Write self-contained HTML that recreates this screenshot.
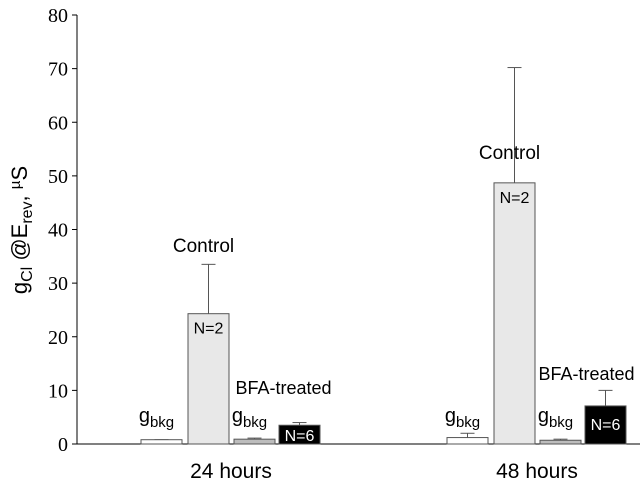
<!DOCTYPE html>
<html><head><meta charset="utf-8"><style>
html,body{margin:0;padding:0;background:#fff;}
svg{display:block;font-family:"Liberation Sans",sans-serif;}
</style></head><body>
<svg id="c" width="640" height="483" xmlns="http://www.w3.org/2000/svg"></svg>
<script>
const groups = ["24 hours","48 hours"];
const barLabels = ["gbkg-control","control","gbkg-bfa","bfa-treated"];
const values24 = [0.8, 24.3, 0.9, 3.5];
const errors24 = [0.8, 33.5, 1.1, 4.0];
const values48 = [1.2, 48.7, 0.7, 7.1];
const errors48 = [2.0, 70.2, 0.9, 10.0];
const yTicks = [0,10,20,30,40,50,60,70,80];

const NS="http://www.w3.org/2000/svg";
const svg=document.getElementById('c');
const y0=444, y80=15, axX=77;
const yS=v=>y0-(v/80)*(y0-y80);
function el(t,a,p){const e=document.createElementNS(NS,t);for(const k in a)e.setAttribute(k,a[k]);(p||svg).appendChild(e);return e;}
const fills=["#fff","#e8e8e8","#bdbdbd","#000"];
const groupStart=[141,447];
const offs=[0,47,93,138];
const bw=41;
const allV=[values24,values48], allE=[errors24,errors48];

const ya=el('line',{x1:axX,y1:y80,x2:axX,y2:y0,stroke:'#000','stroke-width':1});

const xa=el('line',{x1:axX,y1:y0,x2:640,y2:y0,stroke:'#000','stroke-width':1});

yTicks.forEach(t=>{
  const y=yS(t);
  const l=el('line',{x1:axX-5,y1:y,x2:axX,y2:y,stroke:'#000'});
  
  const tx=el('text',{x:axX-9,y:y+7,'text-anchor':'end','font-size':20,'font-family':'Liberation Serif,serif'});
  tx.textContent=t;
  
});
const yt=el('text',{transform:'translate(27,230) rotate(-90)','text-anchor':'middle','font-size':22});

yt.innerHTML='g<tspan font-size="16" dy="5">Cl</tspan><tspan dy="-5"> @E</tspan><tspan font-size="16" dy="5">rev</tspan><tspan dy="-5">, </tspan><tspan font-size="15" dy="-7">µ</tspan><tspan dy="7">S</tspan>';

groups.forEach((g,gi)=>{
  allV[gi].forEach((v,i)=>{
    const x=groupStart[gi]+offs[i], top=yS(v), et=yS(allE[gi][i]);
    const cx=x+bw/2;
    const ew=el('line',{x1:cx,y1:et,x2:cx,y2:top,stroke:'#555'});
    
    const ec=el('line',{x1:cx-7,y1:et,x2:cx+7,y2:et,stroke:'#555'});
    
    const r=el('rect',{x:x,y:top,width:bw,height:y0-top,fill:fills[i],stroke:'#555','stroke-width':1});
    
    if(i===1||i===3){
      const n=el('text',{x:cx,y:i===3?top+(gi===0?16:24):top+20,'text-anchor':'middle','font-size':16,fill:i===3?'#fff':'#000'});
      n.textContent=i===1?'N=2':'N=6';
      
    }
    if(i===0||i===2){
      const gt=el('text',{x:cx-5,y:y0-22,'text-anchor':'middle','font-size':20});
      gt.innerHTML='g<tspan font-size="15" dy="5">bkg</tspan>';
      
    }
    if(i===1){
      const ct=el('text',{x:cx-5,y:gi===0?252:159,'text-anchor':'middle','font-size':19});
      ct.textContent='Control';
      
    }
    if(i===3){
      const bt=el('text',{x:cx-(gi===0?16:19),y:gi===0?394:380,'text-anchor':'middle','font-size':18});
      bt.textContent='BFA-treated';
      
    }
  });
  const gl=el('text',{x:groupStart[gi]+90,y:478,'text-anchor':'middle','font-size':21});
  gl.textContent=g;
  
});
</script>
</body></html>
